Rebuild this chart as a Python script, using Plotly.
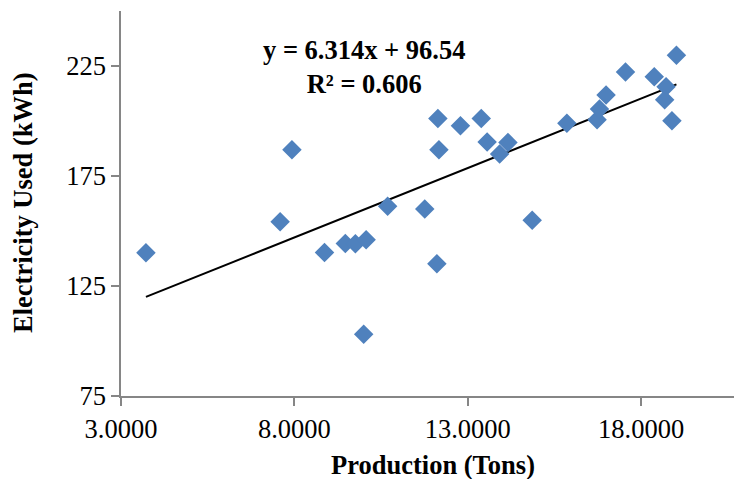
import plotly.graph_objects as go

# Data
production = [3.72, 7.59, 7.93, 8.87, 9.47, 9.76, 10.07, 10.00, 10.69, 11.76,
              12.11, 12.14, 12.17, 12.79, 13.39, 13.56, 13.92, 14.16, 14.86, 15.86,
              16.73, 16.80, 16.99, 17.55, 18.38, 18.72, 18.68, 18.89, 19.02]
electricity = [140.1, 154.2, 186.9, 140.2, 144.3, 144.2, 146.0, 103.1, 161.2, 160.0,
               135.1, 201.1, 186.9, 197.8, 201.1, 190.5, 185.0, 190.2, 154.9, 199.0,
               200.6, 205.4, 211.8, 222.3, 220.1, 215.6, 209.7, 200.1, 229.9]

slope = 6.314
intercept = 96.54
r_squared = 0.606

x_ticks = [3, 8, 13, 18]
y_ticks = [75, 125, 175, 225]

x_title = "Production (Tons)"
y_title = "Electricity Used (kWh)"

trend_x = [min(production), max(production)]
trend_y = [slope * v + intercept for v in trend_x]

FONT = "Liberation Serif, Times New Roman, serif"
AXIS_GRAY = "#868686"

fig = go.Figure()
fig.add_trace(go.Scatter(
    x=trend_x, y=trend_y, mode="lines",
    line=dict(color="black", width=2), showlegend=False, hoverinfo="skip"))
fig.add_trace(go.Scatter(
    x=production, y=electricity, mode="markers",
    marker=dict(symbol="diamond", size=15, color="#4F81BD", line=dict(width=0)),
    showlegend=False))

fig.update_layout(
    width=734, height=479,
    margin=dict(l=121, r=0, t=11, b=83),
    paper_bgcolor="white", plot_bgcolor="white",
    font=dict(family=FONT, size=26.5, color="black"),
    xaxis=dict(
        range=[3, 20.68], tickvals=x_ticks, tickformat=".4f", automargin=False,
        showgrid=False, zeroline=False, showline=True, linecolor=AXIS_GRAY, linewidth=1.5,
        ticks="outside", ticklen=8, tickcolor=AXIS_GRAY, tickwidth=1.5,
        tickfont=dict(family=FONT, size=26.5, color="black")),
    yaxis=dict(
        range=[75, 250], tickvals=y_ticks, automargin=False,
        showgrid=False, zeroline=False, showline=True, linecolor=AXIS_GRAY, linewidth=1.5,
        ticks="outside", ticklen=8, tickcolor=AXIS_GRAY, tickwidth=1.5,
        tickfont=dict(family=FONT, size=26.5, color="black")),
    annotations=[
        dict(text="<b>" + x_title + "</b>", xref="paper", yref="paper",
             x=(433 - 121) / 613, y=-(465 - 396) / 385, xanchor="center", yanchor="middle",
             showarrow=False, font=dict(family=FONT, size=26.5, color="black")),
        dict(text="<b>" + y_title + "</b>", xref="paper", yref="paper",
             x=-(121 - 23) / 613, y=(396 - 203) / 385, xanchor="center", yanchor="middle",
             textangle=-90, showarrow=False, font=dict(family=FONT, size=26.5, color="black")),
        dict(text="<b>y = %.3fx + %.2f</b><br><b>R² = %.3f</b>" % (slope, intercept, r_squared),
             xref="paper", yref="paper",
             x=(364 - 121) / 613, y=(396 - 67) / 385, xanchor="center", yanchor="middle",
             align="center", showarrow=False,
             font=dict(family=FONT, size=26.5, color="black")),
    ],
)

fig.write_html("out.html", config={"displayModeBar": False},
               post_script="document.body.style.margin='0';")
